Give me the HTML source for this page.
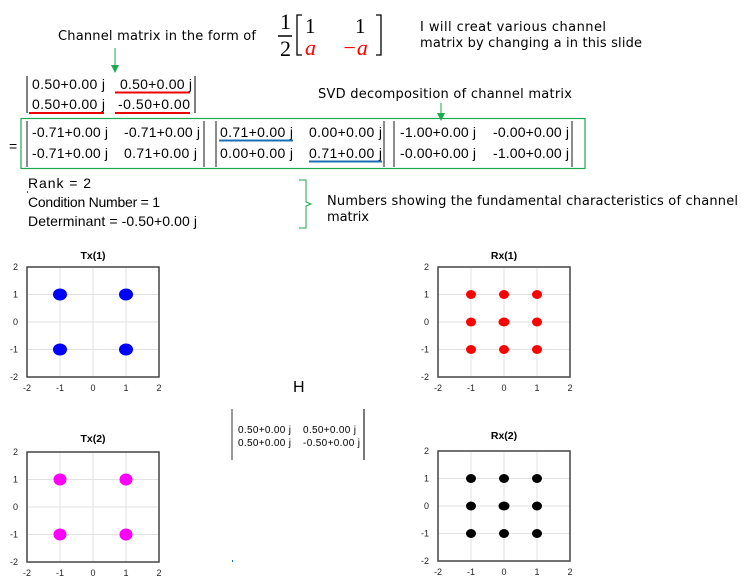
<!DOCTYPE html>
<html><head><meta charset="utf-8"><style>
html,body{margin:0;padding:0;background:#fff;}
svg{display:block;}
text{font-family:"Liberation Sans",sans-serif;}
.v{font-family:"DejaVu Sans",sans-serif;font-size:13px;}
.m{font-size:14px;}
.ax{font-size:9px;fill:#222;}
.tt{font-size:10.5px;font-weight:bold;}
</style></head><body>
<svg width="741" height="587" viewBox="0 0 741 587" xmlns="http://www.w3.org/2000/svg">
<defs>
<g id="axes">
  <rect x="0" y="0" width="132" height="110" fill="#fff"/>
  <g stroke="#e2e2e2" stroke-width="1">
    <line x1="33" y1="0" x2="33" y2="110"/><line x1="66" y1="0" x2="66" y2="110"/><line x1="99" y1="0" x2="99" y2="110"/>
    <line x1="0" y1="27.5" x2="132" y2="27.5"/><line x1="0" y1="55" x2="132" y2="55"/><line x1="0" y1="82.5" x2="132" y2="82.5"/>
  </g>
  <rect x="0" y="0" width="132" height="110" fill="none" stroke="#444" stroke-width="1.5"/>
  <g class="ax" text-anchor="end">
    <text x="-9" y="3">2</text><text x="-9" y="30.5">1</text><text x="-9" y="58">0</text><text x="-9" y="85.5">-1</text><text x="-9" y="113">-2</text>
  </g>
  <g class="ax" text-anchor="middle">
    <text x="0" y="124">-2</text><text x="33" y="124">-1</text><text x="66" y="124">0</text><text x="99" y="124">1</text><text x="132" y="124">2</text>
  </g>
</g>
</defs>

<!-- header -->
<text class="v" x="58" y="40" textLength="198">Channel matrix in the form of</text>
<text x="280" y="29" style="font-family:'Liberation Serif',serif;font-size:22px">1</text>
<line x1="278" y1="36" x2="292" y2="36" stroke="#000" stroke-width="1.5"/>
<text x="280" y="56" style="font-family:'Liberation Serif',serif;font-size:22px">2</text>
<path d="M302 15 H297 V55 H302" fill="none" stroke="#000" stroke-width="1.3"/>
<path d="M376 15 H381 V55 H376" fill="none" stroke="#000" stroke-width="1.3"/>
<text x="305" y="33" style="font-family:'Liberation Serif',serif;font-size:21px">1</text>
<text x="355" y="33" style="font-family:'Liberation Serif',serif;font-size:21px">1</text>
<text x="305" y="55" style="font-family:'Liberation Serif',serif;font-size:22px;font-style:italic" fill="#f00">a</text>
<text x="342" y="55" style="font-family:'Liberation Serif',serif;font-size:22px;font-style:italic" fill="#f00">−a</text>
<text class="v" x="420" y="31" textLength="186">I will creat various channel</text>
<text class="v" x="420" y="47" textLength="222">matrix by changing a in this slide</text>
<line x1="115" y1="48" x2="115" y2="66" stroke="#1aaa50" stroke-width="1"/>
<path d="M111 65 L119 65 L115 73 Z" fill="#1aaa50"/>

<!-- matrix 1 -->
<line x1="27" y1="76" x2="27" y2="113" stroke="#555" stroke-width="1.5"/>
<line x1="195" y1="76" x2="195" y2="113" stroke="#555" stroke-width="1.5"/>
<text class="m" x="32" y="89" textLength="73">0.50+0.00 j</text>
<text class="m" x="120" y="89" textLength="72">0.50+0.00 j</text>
<text class="m" x="32" y="109" textLength="73">0.50+0.00 j</text>
<text class="m" x="118" y="109" textLength="72">-0.50+0.00</text>
<line x1="115" y1="92.5" x2="190" y2="92.5" stroke="#e00" stroke-width="2"/>
<line x1="29" y1="113" x2="104" y2="113" stroke="#e00" stroke-width="2"/>
<line x1="115" y1="113" x2="190" y2="113" stroke="#e00" stroke-width="2"/>

<text class="v" x="318" y="98" textLength="254">SVD decomposition of channel matrix</text>
<line x1="441" y1="103" x2="441" y2="114" stroke="#1aaa50" stroke-width="1"/>
<path d="M437 113 L445 113 L441 121 Z" fill="#1aaa50"/>

<!-- SVD box -->
<rect x="21" y="118.5" width="564" height="50" fill="none" stroke="#1aaa50" stroke-width="1.2"/>
<text class="m" x="9" y="151">=</text>
<g stroke="#666" stroke-width="1.5">
<line x1="27" y1="121" x2="27" y2="167"/><line x1="204" y1="121" x2="204" y2="167"/>
<line x1="216" y1="121" x2="216" y2="167"/><line x1="384" y1="121" x2="384" y2="167"/>
<line x1="394" y1="121" x2="394" y2="167"/><line x1="572" y1="121" x2="572" y2="167"/>
</g>
<g class="m">
<text x="32" y="137" textLength="76">-0.71+0.00 j</text>
<text x="124" y="137" textLength="76">-0.71+0.00 j</text>
<text x="32" y="158" textLength="76">-0.71+0.00 j</text>
<text x="124" y="158" textLength="73">0.71+0.00 j</text>
<text x="220" y="137" textLength="73">0.71+0.00 j</text>
<text x="309" y="137" textLength="73">0.00+0.00 j</text>
<text x="220" y="158" textLength="73">0.00+0.00 j</text>
<text x="309" y="158" textLength="73">0.71+0.00 j</text>
<text x="400" y="137" textLength="76">-1.00+0.00 j</text>
<text x="493" y="137" textLength="76">-0.00+0.00 j</text>
<text x="400" y="158" textLength="76">-0.00+0.00 j</text>
<text x="493" y="158" textLength="76">-1.00+0.00 j</text>
</g>
<line x1="219" y1="140.5" x2="293" y2="140.5" stroke="#1a6fb5" stroke-width="2"/>
<line x1="309" y1="161.5" x2="382" y2="161.5" stroke="#1a6fb5" stroke-width="2"/>

<!-- properties -->
<g class="m">
<text x="28" y="188" textLength="63">Rank = 2</text>
<text x="28" y="207" textLength="132">Condition Number = 1</text>
<text x="28" y="226" textLength="169">Determinant = -0.50+0.00 j</text>
</g>
<rect x="27" y="191" width="1" height="2" fill="#1a6fb5"/>
<path d="M299 180 H306 V202 L311 204 L306 206 V228 H299" fill="none" stroke="#1aaa50" stroke-width="1"/>
<text class="v" x="327" y="205" textLength="411">Numbers showing the fundamental characteristics of channel</text>
<text class="v" x="327" y="221" textLength="42">matrix</text>

<!-- H -->
<text x="293" y="392" style="font-size:16px">H</text>
<line x1="232" y1="409" x2="232" y2="460" stroke="#333" stroke-width="1"/>
<line x1="364" y1="409" x2="364" y2="460" stroke="#333" stroke-width="1.3"/>
<g style="font-size:10px">
<text x="238" y="433" textLength="53">0.50+0.00 j</text>
<text x="303" y="433" textLength="53">0.50+0.00 j</text>
<text x="238" y="446" textLength="53">0.50+0.00 j</text>
<text x="303" y="446" textLength="57">-0.50+0.00 j</text>
</g>
<rect x="232" y="560" width="1" height="2" fill="#1a6fb5"/>

<!-- Tx(1) -->
<g transform="translate(27,267)">
<use href="#axes"/>
<text class="tt" x="66" y="-8" text-anchor="middle">Tx(1)</text>
<g fill="#0000ff"><ellipse cx="33" cy="27.5" rx="7" ry="6"/><ellipse cx="99" cy="27.5" rx="7" ry="6"/><ellipse cx="33" cy="82.5" rx="7" ry="6"/><ellipse cx="99" cy="82.5" rx="7" ry="6"/></g>
</g>
<!-- Tx(2) -->
<g transform="translate(27,452)">
<use href="#axes"/>
<text class="tt" x="66" y="-10" text-anchor="middle">Tx(2)</text>
<g fill="#ff00ff"><ellipse cx="33" cy="27.5" rx="6.5" ry="6"/><ellipse cx="99" cy="27.5" rx="6.5" ry="6"/><ellipse cx="33" cy="82.5" rx="6.5" ry="6"/><ellipse cx="99" cy="82.5" rx="6.5" ry="6"/></g>
</g>
<!-- Rx(1) -->
<g transform="translate(438,267)">
<use href="#axes"/>
<text class="tt" x="66" y="-8" text-anchor="middle">Rx(1)</text>
<g fill="#ff0000">
<ellipse cx="33" cy="27.5" rx="5" ry="4.5"/><ellipse cx="66" cy="27.5" rx="5" ry="4.5"/><ellipse cx="99" cy="27.5" rx="5" ry="4.5"/>
<ellipse cx="33" cy="55" rx="5" ry="4.5"/><ellipse cx="66" cy="55" rx="5.5" ry="4.5"/><ellipse cx="99" cy="55" rx="5" ry="4.5"/>
<ellipse cx="33" cy="82.5" rx="5" ry="4.5"/><ellipse cx="66" cy="82.5" rx="5" ry="4.5"/><ellipse cx="99" cy="82.5" rx="5" ry="4.5"/>
</g>
</g>
<!-- Rx(2) -->
<g transform="translate(438,451)">
<use href="#axes"/>
<text class="tt" x="66" y="-12" text-anchor="middle">Rx(2)</text>
<g fill="#000">
<ellipse cx="33" cy="27.5" rx="5" ry="4.5"/><ellipse cx="66" cy="27.5" rx="5" ry="4.5"/><ellipse cx="99" cy="27.5" rx="5" ry="4.5"/>
<ellipse cx="33" cy="55" rx="5" ry="4.5"/><ellipse cx="66" cy="55" rx="5.5" ry="4.5"/><ellipse cx="99" cy="55" rx="5" ry="4.5"/>
<ellipse cx="33" cy="82.5" rx="5" ry="4.5"/><ellipse cx="66" cy="82.5" rx="5" ry="4.5"/><ellipse cx="99" cy="82.5" rx="5" ry="4.5"/>
</g>
</g>
</svg>
</body></html>
